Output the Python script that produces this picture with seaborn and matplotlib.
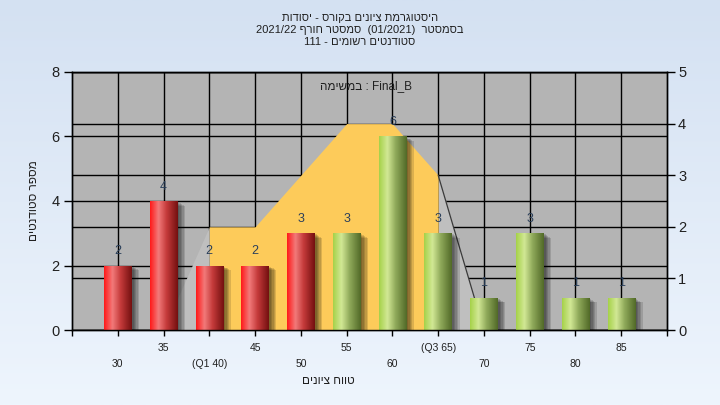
import numpy as np
import pandas as pd
import seaborn as sns
import matplotlib.pyplot as plt
import matplotlib.patheffects as pe
from matplotlib.colors import LinearSegmentedColormap

# histogram data
grades = [30, 35, 40, 45, 50, 55, 60, 65, 70, 75, 80, 85]
counts = [2, 4, 2, 2, 3, 3, 6, 3, 1, 3, 1, 1]
tick_labels = ['30', '35', '(Q1 40)', '45', '50', '55', '60', '(Q3 65)', '70', '75', '80', '85']
pass_grade = 55

# distribution curve (right axis)
dist_x = [35, 40, 45, 50, 55, 60, 65, 70]
dist_y = [0, 2, 2, 3, 4, 4, 3, 0]
q1, q3 = 40, 65

title_lines = ['היסטוגרמת ציונים בקורס - יסודות',
               'בסמסטר  (01/2021)  סמסטר חורף 2021/22',
               'סטודנטים רשומים - 111']
task_text = 'Final_B : במשימה'
xlabel = 'טווח ציונים'
ylabel = 'מספר סטודנטים'


def rtl(s):
    # matplotlib has no bidi, so turn logical hebrew into visual order
    out = []
    for tok in s.split(' ')[::-1]:
        if any('\u0590' <= c <= '\u05ff' for c in tok):
            tok = tok[::-1]
        out.append(tok)
    return ' '.join(out)


sns.set_theme(style='white')
plt.rcParams['font.family'] = ['Liberation Sans', 'DejaVu Sans']

fig = plt.figure(figsize=(7.2, 4.05), dpi=100)

# light blue gradient background
bg = fig.add_axes([0, 0, 1, 1])
bg_cmap = LinearSegmentedColormap.from_list('bg', ['#eef5fd', '#d4e1f2'])
bg.imshow(np.linspace(0, 1, 256).reshape(-1, 1)[::-1], aspect='auto', cmap=bg_cmap,
          extent=(0, 1, 0, 1))
bg.axis('off')
bg.set_zorder(-5)

rect = [72 / 720, 1 - 330 / 405, 595 / 720, 258 / 405]
ax = fig.add_axes(rect)
ax2 = ax.twinx()
ax2.set_zorder(-1)
ax.patch.set_visible(False)
ax2.patch.set_visible(True)
ax2.patch.set_facecolor('#b4b4b4')

# right axis grid sits behind everything
ax2.set_ylim(0, 5)
ax2.set_yticks(range(0, 6))
ax2.grid(axis='y', color='black', lw=1)
ax2.tick_params(axis='y', direction='out', length=6, width=1, color='black',
                labelsize=10.5, labelcolor='#202020', pad=2, right=True)

# area for the Q1..Q3 range, drawn in right axis units
xs = np.array(dist_x)
ys = np.array(dist_y)
inner = (xs >= q1) & (xs <= q3)
left = xs <= q1
right = xs >= q3
ax.fill_between(xs[left], ys[left], color='#bfbfbf', lw=0, zorder=1, transform=ax2.transData)
ax.fill_between(xs[right], ys[right], color='#bfbfbf', lw=0, zorder=1, transform=ax2.transData)
ax.fill_between(xs[inner], ys[inner], color='#fdcb5a', lw=0, zorder=1.1, transform=ax2.transData)
ax.plot(xs[right], ys[right], color='#3a3a3a', lw=0.9, zorder=1.2, transform=ax2.transData)

df = pd.DataFrame({'grade': grades, 'count': counts})
sns.barplot(data=df, x='grade', y='count', native_scale=True, width=0.6,
            color='#cc3333', ax=ax, zorder=2)

red_cmap = LinearSegmentedColormap.from_list(
    'red', [(0, '#ff1a1a'), (0.3, '#f27a7a'), (0.6, '#c43a3a'), (1, '#741010')])
green_cmap = LinearSegmentedColormap.from_list(
    'green', [(0, '#a6d24a'), (0.3, '#d2e895'), (0.6, '#8fa95a'), (1, '#526a28')])
grad = np.linspace(0, 1, 64).reshape(1, -1)

# soft shadow: a few stacked faint offsets
shadow = [pe.SimplePatchShadow(offset=(d, -d * 0.6), shadow_rgbFace='black', alpha=0.13)
          for d in (1.5, 2.5, 3.5, 4.5, 5.5)]

for g, patch in zip(grades, ax.patches):
    cmap = green_cmap if g >= pass_grade else red_cmap
    patch.set_facecolor(cmap(0.5))
    patch.set_edgecolor('none')
    patch.set_path_effects(shadow + [pe.Normal()])
    x0, y0 = patch.get_x(), patch.get_y()
    w, h = patch.get_width(), patch.get_height()
    im = ax.imshow(grad, extent=(x0, x0 + w, y0, y0 + h), aspect='auto', cmap=cmap,
                   zorder=2.1, interpolation='bilinear')
    im.set_clip_path(patch)

ax.bar_label(ax.containers[0], padding=6, fontsize=9, color='#2a3f5a')

ax.set_xlim(25, 90)
ax.set_ylim(0, 8)
ax.set_yticks(range(0, 9, 2))
ax.set_xticks(grades, labels=tick_labels)
ax.set_xticks([25, 90], minor=True)
ax.grid(axis='both', which='major', color='black', lw=1)
ax.set_axisbelow(True)
ax.tick_params(axis='y', direction='out', length=6, width=1, color='black',
               labelsize=10.5, labelcolor='#202020', pad=3, left=True)
ax.tick_params(axis='x', which='both', direction='out', length=4, width=1, color='black',
               labelsize=7.5, labelcolor='#202020', bottom=True)
for i, t in enumerate(ax.xaxis.get_major_ticks()):
    t.set_pad(17 if i % 2 == 0 else 5.5)

ax.set_xlabel('')
ax.set_ylabel(rtl(ylabel), fontsize=8.5, color='#202020')
ax.yaxis.set_label_coords(-0.054, 0.5)
ax2.set_ylabel('')

for a in (ax, ax2):
    for s in a.spines.values():
        s.set_color('black')
        s.set_linewidth(1)

fig.text(328 / 720, 1 - 381 / 405, rtl(xlabel), ha='center', va='center',
         fontsize=8.5, color='#202020')
fig.text(366 / 720, 1 - 86 / 405, rtl(task_text), ha='center', va='center',
         fontsize=8.5, color='#202020')
fig.text(0.5, 1 - 30 / 405, '\n'.join(rtl(t) for t in title_lines), ha='center', va='center',
         fontsize=8, color='#202020', linespacing=1.25)

fig.savefig('out.png', dpi=100)
